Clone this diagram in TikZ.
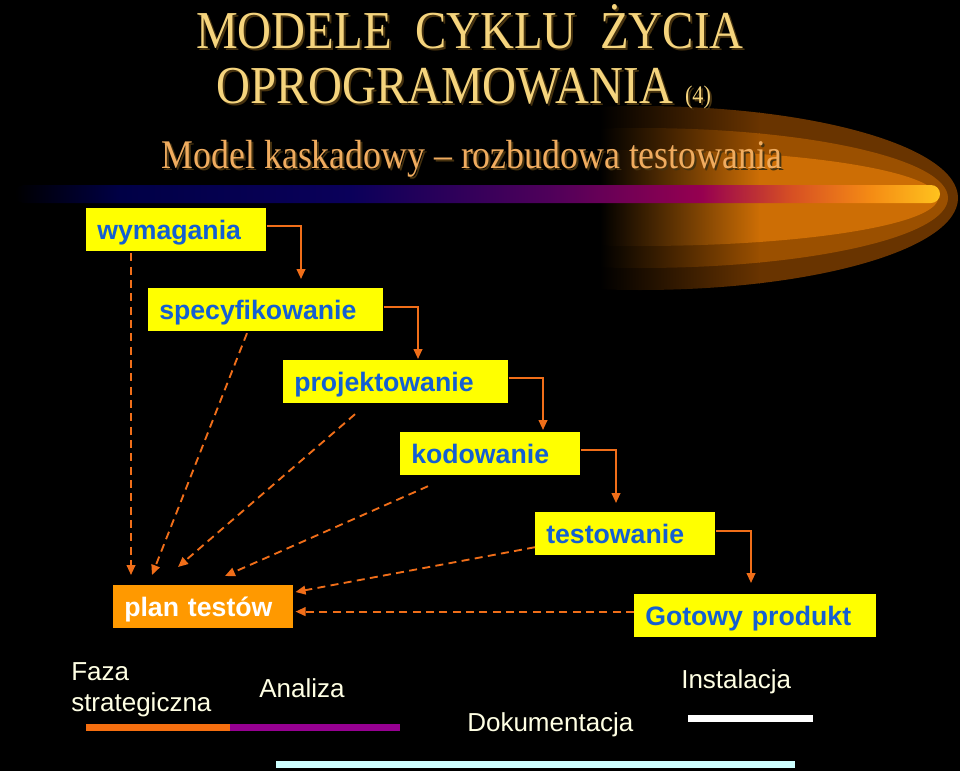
\documentclass[tikz,border=0pt]{standalone}
\usepackage{fontspec}
\setmainfont{Liberation Sans}
\newfontfamily\titlefont{Liberation Serif}[FakeStretch=0.88]
\usetikzlibrary{arrows.meta,calc}
\definecolor{boxyellow}{RGB}{255,255,0}
\definecolor{boxblue}{RGB}{20,95,210}
\definecolor{planorange}{RGB}{255,153,0}
\definecolor{arrorange}{RGB}{240,110,25}
\definecolor{titlegold}{RGB}{245,212,125}
\definecolor{subgold}{RGB}{240,172,95}
\definecolor{shadowc}{RGB}{70,50,15}
\definecolor{cream}{RGB}{255,255,228}
\definecolor{barorange}{RGB}{245,110,15}
\definecolor{barpurple}{RGB}{150,0,145}
\definecolor{barcyan}{RGB}{205,255,255}
\definecolor{swa}{RGB}{105,52,0}
\definecolor{swb}{RGB}{155,80,0}
\definecolor{swc}{RGB}{205,110,5}
\definecolor{bsa}{RGB}{0,0,70}
\definecolor{bsb}{RGB}{10,0,90}
\definecolor{bsc}{RGB}{80,0,90}
\definecolor{bsd}{RGB}{150,0,80}
\definecolor{bse}{RGB}{215,80,35}
\definecolor{bsf}{RGB}{245,140,20}
\definecolor{bsg}{RGB}{255,195,30}
\pgfdeclarehorizontalshading{barshade}{100bp}{color(0bp)=(black); color(25bp)=(black); color(30.7bp)=(bsa); color(43.1bp)=(bsb); color(54bp)=(bsc); color(62.1bp)=(bsd); color(67bp)=(bse); color(71.3bp)=(bsf); color(75bp)=(bsg); color(100bp)=(bsg)}
\newcommand{\shadowtext}[2]{\rlap{\hspace{1.5pt}\raisebox{-1.5pt}{\color{shadowc}#2}}{\color{#1}#2}}
\tikzset{
  box/.style={fill=boxyellow, text=boxblue, font=\bfseries\fontsize{20}{22}\selectfont,
    inner xsep=8.25pt, inner ysep=0pt, minimum height=32pt, text height=18pt, text depth=3pt,
    align=left, anchor=north west},
  planbox/.style={box, fill=planorange, text=white},
  flow/.style={draw=arrorange, line width=1.4pt, -{Triangle[length=7.5pt,width=6.5pt]}},
  back/.style={flow, dash pattern=on 6pt off 4pt},
  ttl/.style={font=\titlefont\fontsize{40}{44}\selectfont, anchor=base, inner sep=0pt},
  subttl/.style={font=\titlefont\fontsize{30.5}{34}\selectfont, anchor=base, inner sep=0pt},
  low/.style={font=\fontsize{19.5}{22}\selectfont, text=cream, anchor=base west, inner sep=0pt},
}
\begin{document}
\begin{tikzpicture}[x=0.75pt,y=-0.75pt]
\fill[black] (0,0) rectangle (960,771);
\useasboundingbox (0,0) rectangle (960,771);
% swoosh
\foreach \rx/\ry/\c in {318/92/swa, 308/70/swb, 298/48/swc}{
  \begin{scope}
    \clip (640,198) ellipse [x radius=\rx, y radius=\ry];
    \shade[left color=black, right color=\c] (600,100) rectangle (760,300);
    \fill[\c] (759,100) rectangle (960,300);
  \end{scope}
}
% gradient bar
\shade[shading=barshade, rounded corners=6.75pt] (15,185) rectangle (940,203);
% titles
\node[ttl] (t1) at (470,48) {\shadowtext{titlegold}{MODELE\ \ CYKLU\ \ ŻYCIA}};
\node[ttl] (t2) at (464,103) {\shadowtext{titlegold}{OPROGRAMOWANIA {\fontsize{19}{20}\selectfont (4)}}};
\node[subttl] (t3) at (472,168) {\shadowtext{subgold}{Model kaskadowy – rozbudowa testowania}};
% boxes
\node[box, text width=118.5pt] (wym) at (86,208) {wymagania};
\node[box, text width=159.75pt] (spec) at (148,288) {specyfikowanie};
\node[box, text width=152.25pt] (proj) at (283,360) {projektowanie};
\node[box, text width=118.5pt] (kod) at (400,432) {kodowanie};
\node[box, text width=118.5pt] (test) at (535,512) {testowanie};
\node[box, text width=165pt] (got) at (634,594) {Gotowy produkt};
\node[planbox, text width=118.5pt] (plan) at (113,585) {plan testów};
% flow arrows
\draw[flow] ($(wym.east)+(0,-4)$) -| ($(spec.north west)+(153,-9)$);
\draw[flow] ($(spec.east)+(0,-2.5)$) -| ($(proj.north west)+(135,-1)$);
\draw[flow] ($(proj.east)+(0,-3.5)$) -| ($(kod.north west)+(143,-2)$);
\draw[flow] ($(kod.east)+(0,-3.5)$) -| ($(test.north west)+(81,-9)$);
\draw[flow] ($(test.east)+(0,-3)$) -| ($(got.north west)+(117,-11)$);
% dashed arrows to test plan
\draw[back] ($(wym.south west)+(45,2)$) -- ($(plan.north west)+(18,-10)$);
\draw[back] ($(spec.south west)+(99,2)$) -- ($(plan.north west)+(39,-10)$);
\draw[back] ($(proj.south west)+(72,11)$) -- ($(plan.north west)+(65,-18)$);
\draw[back] ($(kod.south west)+(28,11)$) -- ($(plan.north west)+(112,-9)$);
\draw[back] ($(test.south west)+(0,-8)$) -- ($(plan.north east)+(2,7)$);
\draw[back] ($(got.west)+(0,-4)$) -- ($(plan.east)+(2,5)$);
% phases
\node[low] (faza1) at (71,680) {Faza};
\node[low] (faza2) at (71,711) {strategiczna};
\node[low] (anal) at (259,697) {Analiza};
\node[low] (dok) at (467,731) {Dokumentacja};
\node[low] (inst) at (681,688) {Instalacja};
\fill[barorange] (86,724) rectangle (230,731);
\fill[barpurple] (230,724) rectangle (400,731);
\fill[white] (688,715) rectangle (813,722);
\fill[barcyan] (276,761) rectangle (795,768);
\end{tikzpicture}
\end{document}
